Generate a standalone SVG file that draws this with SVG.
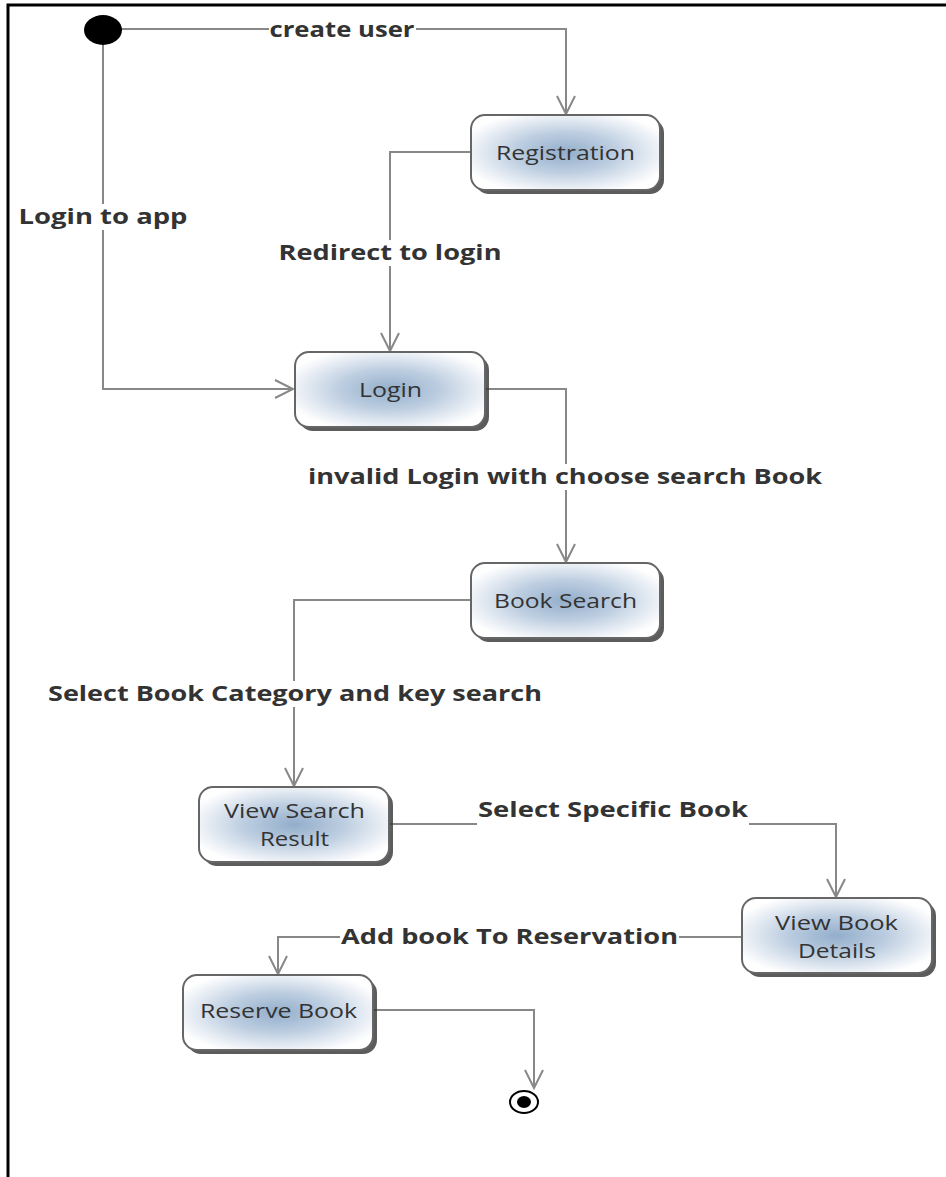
<svg xmlns="http://www.w3.org/2000/svg" width="946" height="1177" viewBox="0 0 946 1177">
<defs>
<radialGradient id="g" cx="50%" cy="50%" r="58%">
<stop offset="0" stop-color="#93aecb"/>
<stop offset="0.45" stop-color="#bccde0"/>
<stop offset="0.85" stop-color="#eef2f7"/>
<stop offset="1" stop-color="#ffffff"/>
</radialGradient>
<marker id="a" markerWidth="24" markerHeight="24" refX="20" refY="10" orient="auto" markerUnits="userSpaceOnUse">
<path d="M2,1 L20,10 L2,19" fill="none" stroke="#888" stroke-width="2"/>
</marker>
</defs>
<style>
.frame{stroke:#000;stroke-width:3;fill:none}
.c{fill:none;stroke:#888;stroke-width:2}
.box{fill:url(#g);stroke:#666;stroke-width:2}
.sh{fill:#333;opacity:0.8}
.t{font-family:"Open Sans","DejaVu Sans",sans-serif;font-size:20px;fill:#333;text-anchor:middle}
.l{font-family:"Open Sans","DejaVu Sans",sans-serif;font-size:21px;font-weight:bold;fill:#333;text-anchor:middle}
.bg{fill:#fff}
</style>
<rect width="946" height="1177" fill="#fff"/>
<path class="frame" d="M8,1177 V5 H946"/>
<g id="connectors">
<path class="c" d="M120,29 H566 V114" marker-end="url(#a)"/>
<path class="c" d="M103,44 V389 H293" marker-end="url(#a)"/>
<path class="c" d="M471,152 H390 V351" marker-end="url(#a)"/>
<path class="c" d="M485,389 H566 V562" marker-end="url(#a)"/>
<path class="c" d="M471,600 H294 V786" marker-end="url(#a)"/>
<path class="c" d="M389,824 H836 V897" marker-end="url(#a)"/>
<path class="c" d="M742,937 H278 V974" marker-end="url(#a)"/>
<path class="c" d="M373,1010 H534 V1088" marker-end="url(#a)"/>
<rect class="bg" x="269" y="18" width="147" height="24"/>
<text class="l" x="342" y="37" textLength="145" lengthAdjust="spacingAndGlyphs">create user</text>
<rect class="bg" x="18" y="204" width="171" height="26"/>
<text class="l" x="103" y="224" textLength="169" lengthAdjust="spacingAndGlyphs">Login to app</text>
<rect class="bg" x="277" y="240" width="225" height="26"/>
<text class="l" x="390" y="260" textLength="223" lengthAdjust="spacingAndGlyphs">Redirect to login</text>
<rect class="bg" x="307" y="464" width="516" height="26"/>
<text class="l" x="565" y="484" textLength="514" lengthAdjust="spacingAndGlyphs">invalid Login with choose search Book</text>
<rect class="bg" x="47" y="681" width="496" height="26"/>
<text class="l" x="295" y="701" textLength="494" lengthAdjust="spacingAndGlyphs">Select Book Category and key search</text>
<rect class="bg" x="477" y="797" width="272" height="30"/>
<text class="l" x="613" y="817" textLength="270" lengthAdjust="spacingAndGlyphs">Select Specific Book</text>
<rect class="bg" x="340" y="924" width="339" height="26"/>
<text class="l" x="509.5" y="944" textLength="337" lengthAdjust="spacingAndGlyphs">Add book To Reservation</text>
</g>
<g id="start"><ellipse cx="103" cy="30" rx="19" ry="15" fill="#000"/></g>
<g id="registration">
<rect class="sh" x="475" y="119" width="189" height="75" rx="14"/>
<rect class="box" x="471" y="115" width="189" height="75" rx="14"/>
<text class="t" x="565.5" y="160" textLength="139" lengthAdjust="spacingAndGlyphs">Registration</text>
</g>
<g id="login">
<rect class="sh" x="299" y="356" width="190" height="75" rx="14"/>
<rect class="box" x="295" y="352" width="190" height="75" rx="14"/>
<text class="t" x="390.5" y="397" textLength="63" lengthAdjust="spacingAndGlyphs">Login</text>
</g>
<g id="booksearch">
<rect class="sh" x="475" y="567" width="189" height="75" rx="14"/>
<rect class="box" x="471" y="563" width="189" height="75" rx="14"/>
<text class="t" x="565.5" y="608" textLength="143" lengthAdjust="spacingAndGlyphs">Book Search</text>
</g>
<g id="viewsearchresult">
<rect class="sh" x="203" y="791" width="190" height="75" rx="14"/>
<rect class="box" x="199" y="787" width="190" height="75" rx="14"/>
<text class="t" x="294.5" y="818" textLength="141" lengthAdjust="spacingAndGlyphs">View Search</text>
<text class="t" x="294.5" y="846" textLength="69" lengthAdjust="spacingAndGlyphs">Result</text>
</g>
<g id="viewbookdetails">
<rect class="sh" x="746" y="902" width="190" height="75" rx="14"/>
<rect class="box" x="742" y="898" width="190" height="75" rx="14"/>
<text class="t" x="836.5" y="930" textLength="123" lengthAdjust="spacingAndGlyphs">View Book</text>
<text class="t" x="837" y="958" textLength="78" lengthAdjust="spacingAndGlyphs">Details</text>
</g>
<g id="reservebook">
<rect class="sh" x="187" y="979" width="190" height="75" rx="14"/>
<rect class="box" x="183" y="975" width="190" height="75" rx="14"/>
<text class="t" x="278.5" y="1018" textLength="157" lengthAdjust="spacingAndGlyphs">Reserve Book</text>
</g>
<g id="end">
<ellipse cx="524" cy="1102" rx="14" ry="11" fill="#fff" stroke="#000" stroke-width="2"/>
<ellipse cx="524" cy="1102" rx="7" ry="6" fill="#000"/>
</g>
</svg>
